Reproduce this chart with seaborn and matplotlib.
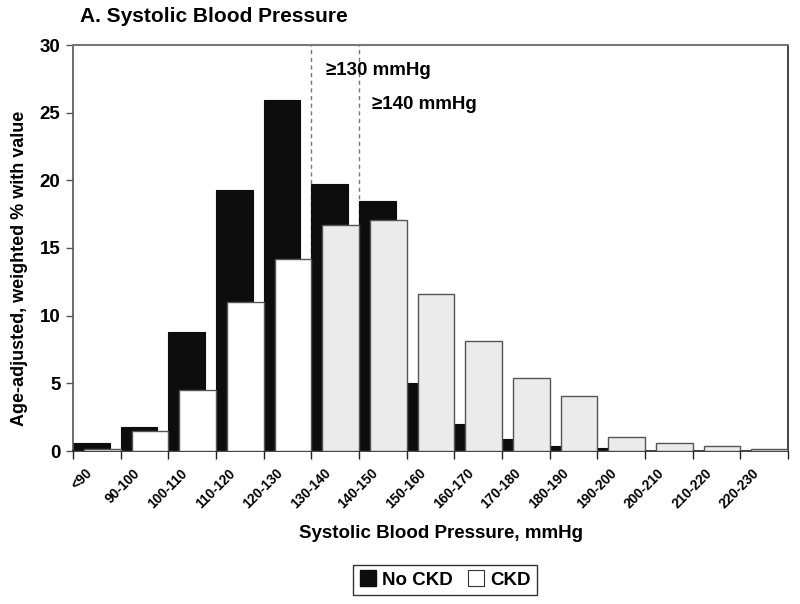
import matplotlib
matplotlib.use("Agg")
import matplotlib.pyplot as plt
import seaborn as sns
import numpy as np
from matplotlib.lines import Line2D

categories = ["<90", "90-100", "100-110", "110-120", "120-130", "130-140", "140-150",
              "150-160", "160-170", "170-180", "180-190", "190-200", "200-210",
              "210-220", "220-230"]
no_ckd = [0.6, 1.8, 8.8, 19.3, 25.9, 19.7, 18.5, 5.0, 2.0, 0.9, 0.37, 0.2, 0.0, 0.0, 0.0]
ckd = [0.15, 1.5, 4.5, 11.0, 14.2, 16.7, 17.1, 11.6, 8.1, 5.4, 4.05, 1.05, 0.6, 0.35, 0.15]
yticks = [0, 5, 10, 15, 20, 25, 30]

sns.set_style("white")
plt.rcParams['font.family'] = ['Liberation Sans', 'DejaVu Sans']
plt.rcParams['font.weight'] = 'bold'
for k in ('text.color', 'axes.labelcolor', 'xtick.color', 'ytick.color'):
    plt.rcParams[k] = 'black'

fig = plt.figure(figsize=(8, 6.04), dpi=100)
ax = fig.add_axes([73/800, 1-451/604, (788-73)/800, (451-45)/604])

idx = np.arange(len(categories))
bw = 0.77

# dashed threshold lines at 130 and 140 boundaries
for xb in (4.5, 5.5):
    ax.plot([xb, xb], [0, 30], color="#777777", lw=1, ls=(0, (3, 2.5)), zorder=0.5)

sns.barplot(x=idx - 0.115, y=no_ckd, native_scale=True, width=bw, color="#0d0d0d",
            edgecolor="#0d0d0d", linewidth=0.8, ax=ax, zorder=2)
n_black = len(ax.patches)
sns.barplot(x=idx + 0.115, y=ckd, native_scale=True, width=bw, color="white",
            edgecolor="#555555", linewidth=1.0, ax=ax, zorder=3)
for k, p in enumerate(ax.patches[n_black:]):
    p.set_facecolor("white" if k < 5 else "#ebebeb")
    p.set_alpha(1)
for p in ax.patches[:n_black]:
    p.set_facecolor("#0d0d0d")
    p.set_alpha(1)

ax.set_xlim(-0.5, len(categories) - 0.5)
ax.set_ylim(0, 30)
ax.set_yticks(yticks)
ax.set_yticklabels([str(v) for v in yticks], fontsize=13.5, fontweight='bold')
# label anchors placed slightly left of category centres (as in the source)
ax.set_xticks(idx - 0.25)
ax.set_xticklabels(categories, rotation=45, ha='right', rotation_mode='anchor',
                   fontsize=9.8, fontweight='bold')
ax.set_xticks(np.arange(-0.5, len(categories)), minor=True)
ax.tick_params(axis='x', which='major', length=0, pad=11)
ax.tick_params(axis='x', which='minor', length=6, width=1, color="#222222", direction='out', bottom=True)
ax.tick_params(axis='y', length=5, width=1, color="#555555", direction='out', left=True, pad=4)
ax.set_xlabel("")
ax.set_ylabel("")

for side in ("left", "bottom", "right"):
    ax.spines[side].set_color("#222222")
    ax.spines[side].set_linewidth(1.2)
ax.spines["top"].set_color("#777777")
ax.spines["top"].set_linewidth(1.5)
ax.spines["left"].set_color("#555555")

ax.text(4.81, 28.15, "≥130 mmHg", fontsize=13.5, fontweight='bold', va='center', ha='left')
ax.text(5.77, 25.6, "≥140 mmHg", fontsize=13.5, fontweight='bold', va='center', ha='left')

fig.text(80/800, 1-17/604, "A. Systolic Blood Pressure", fontsize=15, fontweight='bold',
         ha='left', va='center')
fig.text(20/800, 1-268/604, "Age-adjusted, weighted % with value", fontsize=13,
         fontweight='bold', rotation=90, ha='center', va='center')
fig.text(441/800, 1-533/604, "Systolic Blood Pressure, mmHg", fontsize=13.5,
         fontweight='bold', ha='center', va='center')

handles = [Line2D([], [], marker='s', ls='', markersize=11, markerfacecolor='#0d0d0d',
                  markeredgecolor='#0d0d0d', label='No CKD'),
           Line2D([], [], marker='s', ls='', markersize=11, markerfacecolor='white',
                  markeredgecolor='#333333', markeredgewidth=0.8, label='CKD')]
leg = fig.legend(handles=handles, loc='center', bbox_to_anchor=(445/800, 1-580/604),
                 ncol=2, frameon=True, fancybox=False, handletextpad=0.3,
                 columnspacing=0.8, handlelength=0.9, borderpad=0.35,
                 prop={'weight': 'bold', 'size': 13.5})
leg.get_frame().set_edgecolor('black')
leg.get_frame().set_linewidth(1)

fig.savefig("out.png", dpi=100, facecolor='white')
